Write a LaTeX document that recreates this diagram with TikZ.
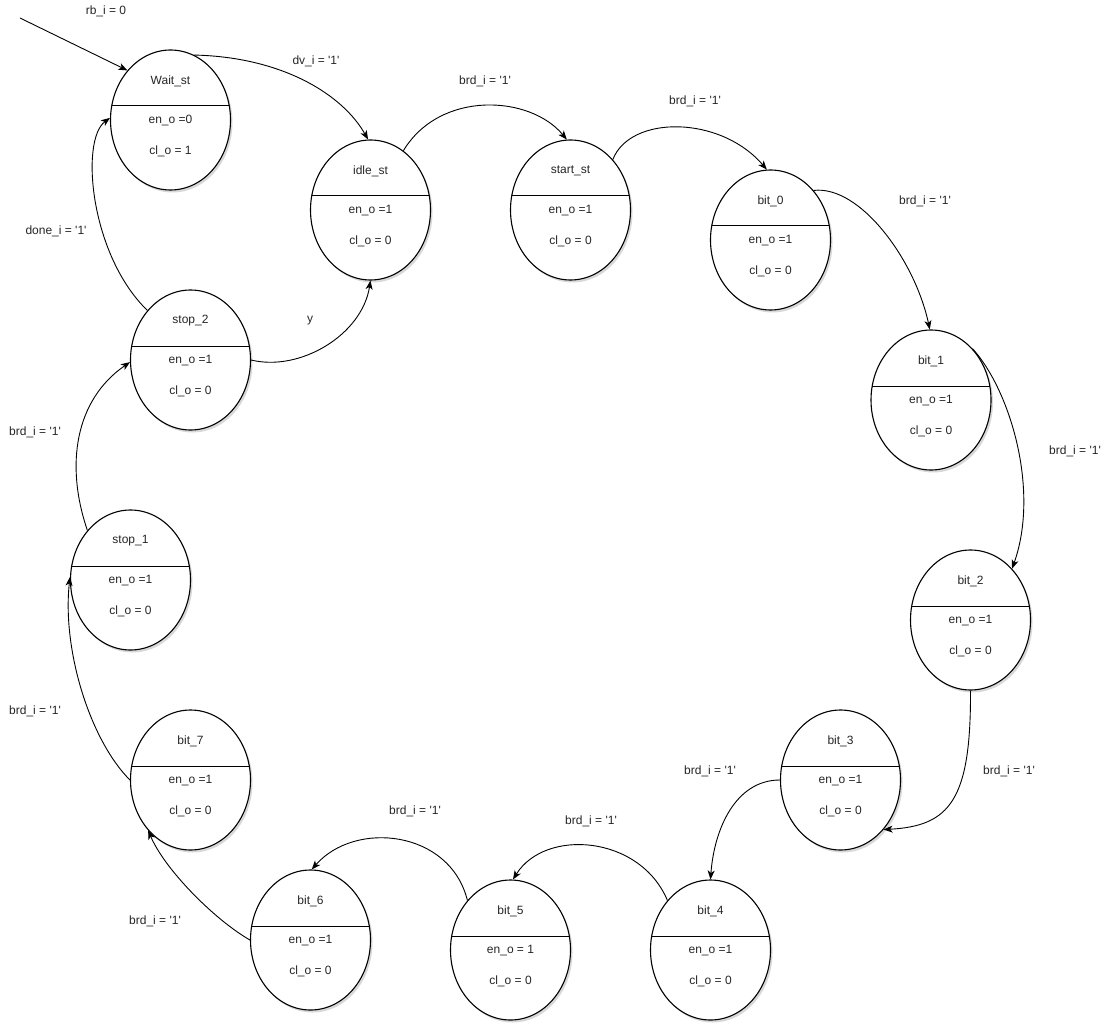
\documentclass[tikz,border=0pt]{standalone}
\usepackage{fontspec}
\setmainfont{Liberation Sans}
\usetikzlibrary{arrows.meta,shapes.geometric,shadows}
\newcommand{\qq}{\textquotesingle}
\newcommand{\fsmstate}[6]{%
  \node[stateshape] (#1) at (#2,#3) {};
  \node[txt] (#1-t) at (#2,#3-39) {#4};
  \node[txt] (#1-e) at (#2,#3+1) {#5};
  \node[txt] (#1-c) at (#2,#3+31) {#6};
  \draw[divider] (#2-58.8,#3-14) -- (#2+58.8,#3-14);
}
\begin{document}
\begin{tikzpicture}[x=1pt,y=-1pt,
  stateshape/.style={ellipse,draw=black,line width=1.1pt,fill=white,minimum width=120pt,minimum height=140pt,inner sep=0pt,
    drop shadow={shadow xshift=2pt,shadow yshift=-2.5pt,opacity=0.3,fill=gray}},
  txt/.style={font=\fontsize{12}{14}\selectfont,text=black!85,inner sep=0pt},
  divider/.style={line width=1pt,black},
  arr/.style={line width=0.9pt,black,-{Stealth[length=9pt,width=7pt,inset=2.5pt]}}]
\useasboundingbox[fill=white] (0,0) rectangle (1113,1024);

\fsmstate{w}{170.5}{120}{Wait\_st}{en\_o =0}{cl\_o = 1}
\fsmstate{i}{370.5}{210}{idle\_st}{en\_o =1}{cl\_o = 0}
\fsmstate{s}{570.5}{210}{start\_st}{en\_o =1}{cl\_o = 0}
\fsmstate{b0}{770.5}{240}{bit\_0}{en\_o =1}{cl\_o = 0}
\fsmstate{b1}{931}{400}{bit\_1}{en\_o =1}{cl\_o = 0}
\fsmstate{b2}{970.5}{620}{bit\_2}{en\_o =1}{cl\_o = 0}
\fsmstate{b3}{840.5}{780}{bit\_3}{en\_o =1}{cl\_o = 0}
\fsmstate{b4}{710.5}{950}{bit\_4}{en\_o =1}{cl\_o = 0}
\fsmstate{b5}{510.5}{950}{bit\_5}{en\_o = 1}{cl\_o = 0}
\fsmstate{b6}{310.5}{940}{bit\_6}{en\_o =1}{cl\_o = 0}
\fsmstate{b7}{190.5}{780}{bit\_7}{en\_o =1}{cl\_o = 0}
\fsmstate{s1}{130.5}{580}{stop\_1}{en\_o =1}{cl\_o = 0}
\fsmstate{s2}{190.5}{360}{stop\_2}{en\_o =1}{cl\_o = 0}

\coordinate (init) at (20,18);
\draw[arr] (init) -- (w.131);
\draw[arr] (w.70) .. controls (283,57) and (343,95) .. (i.92);
\draw[arr] (i.61) .. controls (440,90) and (530,95) .. (s.93);
\draw[arr] (s.50) .. controls (630,115) and (720,115) .. (b0.93);
\draw[arr] (b0.49) .. controls (860,185) and (915,260) .. (b1.91);
\draw[arr] (b1.51) .. controls (1010,390) and (1040,490) .. (b2.51);
\draw[arr] (b2.270) .. controls (971,800) and (950,826) .. (b3.311);
\draw[arr] (b3.180) .. controls (735,780) and (714,830) .. (b4.90);
\draw[arr] (b4.131) .. controls (640,835) and (545,828) .. (b5.88);
\draw[arr] (b5.131) .. controls (450,830) and (355,820) .. (b6.89);
\draw[arr] (b6.180) .. controls (215,920) and (165,870) .. (b7.230);
\draw[arr] (b7.180) .. controls (90,740) and (62,650) .. (s1.177);
\draw[arr] (s1.131) .. controls (65,465) and (75,400) .. (s2.182);
\draw[arr] (s2.131) .. controls (90,255) and (80,140) .. (w.178);
\draw[arr] (s2.0) .. controls (300,372) and (362,335) .. (i.270);

\node[txt] (l1) at (106,11) {rb\_i = 0};
\node[txt] (l2) at (316,61) {dv\_i = \qq1\qq};
\node[txt] (l3) at (485,81) {brd\_i = \qq1\qq};
\node[txt] (l4) at (695,101) {brd\_i = \qq1\qq};
\node[txt] (l5) at (925,201) {brd\_i = \qq1\qq};
\node[txt] (l6) at (1075,451) {brd\_i = \qq1\qq};
\node[txt] (l7) at (1009,771) {brd\_i = \qq1\qq};
\node[txt] (l8) at (710,771) {brd\_i = \qq1\qq};
\node[txt] (l9) at (591,821) {brd\_i = \qq1\qq};
\node[txt] (l10) at (415,811) {brd\_i = \qq1\qq};
\node[txt] (l11) at (155,921) {brd\_i = \qq1\qq};
\node[txt] (l12) at (35,711) {brd\_i = \qq1\qq};
\node[txt] (l13) at (35,432) {brd\_i = \qq1\qq};
\node[txt] (l14) at (56,231) {done\_i = \qq1\qq};
\node[txt] (l15) at (310,321) {y};
\end{tikzpicture}
\end{document}
